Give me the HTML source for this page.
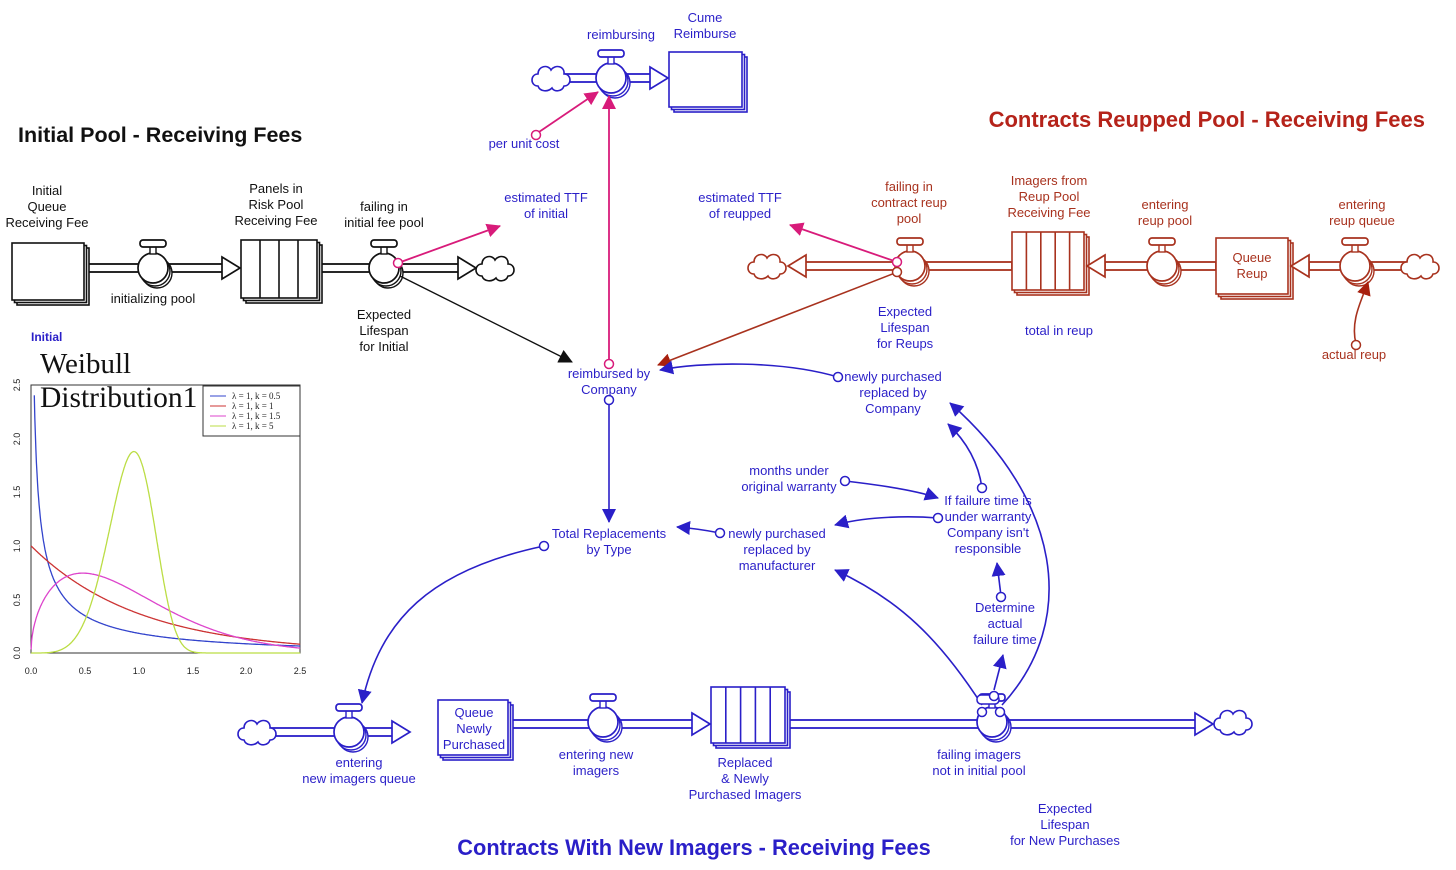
<!DOCTYPE html>
<html><head><meta charset="utf-8"><style>
html,body{margin:0;padding:0;background:#fff;}
svg{display:block;font-family:"Liberation Sans",sans-serif;}
.b{fill:#2a1fc8;font-size:13px;}
.k{fill:#111;font-size:13px;}
.r{fill:#a8321e;font-size:13px;}
</style></head><body>
<svg id="s" width="1456" height="870" viewBox="0 0 1456 870" xmlns="http://www.w3.org/2000/svg">
<defs>
<marker id="ab" markerWidth="10" markerHeight="10" refX="9" refY="5" orient="auto" markerUnits="userSpaceOnUse" viewBox="0 0 10 10"><path d="M0,0 L10,5 L0,10 Z" fill="#2a1fc8"/></marker>
<marker id="am" markerWidth="14" markerHeight="14" refX="13" refY="7" orient="auto" markerUnits="userSpaceOnUse" viewBox="0 0 14 14"><path d="M0,0 L14,7 L0,14 Z" fill="#d81b7a"/></marker>
<marker id="ak" markerWidth="14" markerHeight="14" refX="13" refY="7" orient="auto" markerUnits="userSpaceOnUse" viewBox="0 0 14 14"><path d="M0,0 L14,7 L0,14 Z" fill="#111"/></marker>
<marker id="ar" markerWidth="14" markerHeight="14" refX="13" refY="7" orient="auto" markerUnits="userSpaceOnUse" viewBox="0 0 14 14"><path d="M0,0 L14,7 L0,14 Z" fill="#a8200e"/></marker>
<marker id="abb" markerWidth="14" markerHeight="14" refX="13" refY="7" orient="auto" markerUnits="userSpaceOnUse" viewBox="0 0 14 14"><path d="M0,0 L14,7 L0,14 Z" fill="#2a1fc8"/></marker>
</defs>
<g id="g"></g>

<text x="18" y="142" font-size="21.5" font-weight="bold" fill="#111">Initial Pool - Receiving Fees</text>
<text x="1425" y="127" font-size="22" font-weight="bold" fill="#b5231a" text-anchor="end">Contracts Reupped Pool - Receiving Fees</text>
<text x="694" y="855" font-size="21.8" font-weight="bold" fill="#2a1fc8" text-anchor="middle">Contracts With New Imagers - Receiving Fees</text>

<g class="k" text-anchor="middle">
<text x="47" y="195">Initial</text><text x="47" y="211">Queue</text><text x="47" y="227">Receiving Fee</text>
<text x="276" y="193">Panels in</text><text x="276" y="209">Risk Pool</text><text x="276" y="225">Receiving Fee</text>
<text x="384" y="211">failing in</text><text x="384" y="227">initial fee pool</text>
<text x="153" y="303">initializing pool</text>
<text x="384" y="319">Expected</text><text x="384" y="335">Lifespan</text><text x="384" y="351">for Initial</text>
</g>
<text x="31" y="341" font-size="12" font-weight="bold" fill="#2a1fc8">Initial</text>

<g class="b" text-anchor="middle">
<text x="621" y="39">reimbursing</text>
<text x="705" y="22">Cume</text><text x="705" y="38">Reimburse</text>
<text x="524" y="148">per unit cost</text>
<text x="546" y="202">estimated TTF</text><text x="546" y="218">of initial</text>
<text x="740" y="202">estimated TTF</text><text x="740" y="218">of reupped</text>
<text x="905" y="316">Expected</text><text x="905" y="332">Lifespan</text><text x="905" y="348">for Reups</text>
<text x="1059" y="335">total in reup</text>
<text x="609" y="378">reimbursed by</text><text x="609" y="394">Company</text>
<text x="893" y="381">newly purchased</text><text x="893" y="397">replaced by</text><text x="893" y="413">Company</text>
<text x="789" y="475">months under</text><text x="789" y="491">original warranty</text>
<text x="988" y="505">If failure time is</text><text x="988" y="521">under warranty</text><text x="988" y="537">Company isn't</text><text x="988" y="553">responsible</text>
<text x="609" y="538">Total Replacements</text><text x="609" y="554">by Type</text>
<text x="777" y="538">newly purchased</text><text x="777" y="554">replaced by</text><text x="777" y="570">manufacturer</text>
<text x="1005" y="612">Determine</text><text x="1005" y="628">actual</text><text x="1005" y="644">failure time</text>
<text x="474" y="717">Queue</text><text x="474" y="733">Newly</text><text x="474" y="749">Purchased</text>
<text x="359" y="767">entering</text><text x="359" y="783">new imagers queue</text>
<text x="596" y="759">entering new</text><text x="596" y="775">imagers</text>
<text x="745" y="767">Replaced</text><text x="745" y="783">&amp; Newly</text><text x="745" y="799">Purchased Imagers</text>
<text x="979" y="759">failing imagers</text><text x="979" y="775">not in initial pool</text>
<text x="1065" y="813">Expected</text><text x="1065" y="829">Lifespan</text><text x="1065" y="845">for New Purchases</text>
</g>
<g class="r" text-anchor="middle">
<text x="909" y="191">failing in</text><text x="909" y="207">contract reup</text><text x="909" y="223">pool</text>
<text x="1049" y="185">Imagers from</text><text x="1049" y="201">Reup Pool</text><text x="1049" y="217">Receiving Fee</text>
<text x="1165" y="209">entering</text><text x="1165" y="225">reup pool</text>
<text x="1362" y="209">entering</text><text x="1362" y="225">reup queue</text>
<text x="1252" y="262">Queue</text><text x="1252" y="278">Reup</text>
<text x="1354" y="359">actual reup</text>
</g>

<rect x="31" y="385" width="269" height="268" fill="none" stroke="#333" stroke-width="1"/>
<g id="wb"></g>
<text x="40" y="373" font-family="Liberation Serif,serif" font-size="29" fill="#111">Weibull</text>
<text x="40" y="407" font-family="Liberation Serif,serif" font-size="29.5" fill="#111">Distribution1</text>
<rect x="203" y="386" width="97" height="50" fill="#fff" stroke="#333" stroke-width="1"/>
<g font-family="Liberation Serif,serif" font-size="9" fill="#222">
<line x1="210" y1="396" x2="226" y2="396" stroke="#3344cc"/><text x="232" y="399">λ = 1, k = 0.5</text>
<line x1="210" y1="406" x2="226" y2="406" stroke="#cc3333"/><text x="232" y="409">λ = 1, k = 1</text>
<line x1="210" y1="416" x2="226" y2="416" stroke="#dd44cc"/><text x="232" y="419">λ = 1, k = 1.5</text>
<line x1="210" y1="426" x2="226" y2="426" stroke="#bbdd44"/><text x="232" y="429">λ = 1, k = 5</text>
</g>
<g font-size="9" fill="#222" text-anchor="middle">
<text x="31" y="674">0.0</text><text x="85" y="674">0.5</text><text x="139" y="674">1.0</text><text x="193" y="674">1.5</text><text x="246" y="674">2.0</text><text x="300" y="674">2.5</text>
<text transform="translate(20,653) rotate(-90)">0.0</text>
<text transform="translate(20,600) rotate(-90)">0.5</text>
<text transform="translate(20,546) rotate(-90)">1.0</text>
<text transform="translate(20,492) rotate(-90)">1.5</text>
<text transform="translate(20,439) rotate(-90)">2.0</text>
<text transform="translate(20,385) rotate(-90)">2.5</text>
</g>
</svg>
<script>
var NS="http://www.w3.org/2000/svg",G=document.getElementById("g");
function el(t,a){var e=document.createElementNS(NS,t);for(var k in a)e.setAttribute(k,a[k]);G.appendChild(e);return e;}
var B="#2a1fc8",K="#111",R="#a8321e",M="#d81b7a";
function pipe(x1,x2,y,c){el("rect",{x:Math.min(x1,x2),y:y-4,width:Math.abs(x2-x1),height:8,fill:"#fff",stroke:c,"stroke-width":1.8});}
function head(x,y,dir,c){var w=18*dir;el("path",{d:"M"+x+","+(y-11)+" L"+(x+w)+","+y+" L"+x+","+(y+11)+" Z",fill:"#fff",stroke:c,"stroke-width":1.7});}
function valve(x,y,c){el("circle",{cx:x+4,cy:y+5,r:15,fill:"#fff",stroke:c,"stroke-width":1.4});el("circle",{cx:x+2,cy:y+3,r:15,fill:"#fff",stroke:c,"stroke-width":1.4});el("circle",{cx:x,cy:y,r:15,fill:"#fff",stroke:c,"stroke-width":1.7});
el("rect",{x:x-3,y:y-22,width:6,height:8,fill:"#fff",stroke:c,"stroke-width":1.4});el("rect",{x:x-13,y:y-28,width:26,height:7,rx:3,fill:"#fff",stroke:c,"stroke-width":1.7});}
function cloud(x,y,c){el("path",{d:"M"+(x-14)+","+(y+8)+" c-8,0 -8,-12 0,-12 c0,-8 10,-10 13,-4 c4,-6 14,-4 13,4 c8,0 8,12 0,12 c-2,6 -10,6 -12,2 c-4,4 -12,4 -14,-2 Z",fill:"#fff",stroke:c,"stroke-width":1.6});}
function stock(x,y,w,h,c,cols){for(var i=2;i>=0;i--)el("rect",{x:x+i*2.5,y:y+i*2.5,width:w,height:h,fill:"#fff",stroke:c,"stroke-width":1.6});
if(cols){for(var j=1;j<cols;j++){var xx=x+w*j/cols;el("line",{x1:xx,y1:y,x2:xx,y2:y+h,stroke:c,"stroke-width":1.6});}}}
function ln(d,c,m,w){el("path",{d:d,fill:"none",stroke:c,"stroke-width":w||1.6,"marker-end":m?"url(#"+m+")":""});}
function dot(x,y,c){el("circle",{cx:x,cy:y,r:4.5,fill:"#fff",stroke:c,"stroke-width":1.5});}

pipe(565,655,78,B);cloud(552,78,B);head(650,78,1,B);valve(611,78,B);stock(669,52,73,55,B,0);
pipe(86,225,268,K);pipe(318,462,268,K);stock(12,243,72,57,K,0);valve(153,268,K);head(222,268,1,K);stock(241,240,76,58,K,4);valve(384,268,K);head(458,268,1,K);cloud(496,268,K);
ln("M400,276 L572,362",K,"ak",1.4);
ln("M398,263 L500,226",M,"am",1.8);dot(398,263,M);
pipe(805,1012,266,R);pipe(1105,1216,266,R);pipe(1309,1408,266,R);
cloud(768,266,R);head(806,266,-1,R);valve(910,266,R);stock(1012,232,72,58,R,5);head(1105,266,-1,R);valve(1162,266,R);stock(1216,238,72,56,R,0);head(1309,266,-1,R);valve(1355,266,R);cloud(1421,266,R);
ln("M897,262 L790,225",M,"am",1.8);dot(897,262,M);
ln("M895,273 L658,365",R,"ar",1.6);dot(897,272,R);
ln("M1356,344 C1350,320 1362,300 1368,282",R,"ar",1.6);dot(1356,345,R);
ln("M536,134 L598,92",M,"am",1.8);dot(536,135,M);
ln("M609,364 L609,96",M,"am",1.8);dot(609,364,M);
ln("M609,400 L609,522",B,"abb",1.6);dot(609,400,B);
ln("M838,377 C780,360 700,362 660,370",B,"abb",1.6);dot(838,377,B);
ln("M982,488 C978,460 965,440 948,424",B,"abb",1.6);dot(982,488,B);
ln("M845,481 C880,485 915,490 938,498",B,"abb",1.6);dot(845,481,B);
ln("M938,518 C900,515 860,518 835,525",B,"abb",1.6);dot(938,518,B);
ln("M720,533 C705,530 690,528 677,527",B,"abb",1.6);dot(720,533,B);
ln("M1001,596 L997,563",B,"abb",1.6);dot(1001,597,B);
ln("M544,546 C430,570 380,620 362,703",B,"abb",1.6);dot(544,546,B);
pipe(270,395,732,B);pipe(512,695,724,B);pipe(787,1198,724,B);
cloud(258,732,B);valve(349,732,B);head(392,732,1,B);stock(438,700,70,55,B,0);valve(603,722,B);head(692,724,1,B);stock(711,687,74,56,B,5);valve(992,722,B);head(1195,724,1,B);cloud(1234,722,B);
ln("M1002,705 C1080,620 1060,500 950,403",B,"abb",1.6);
ln("M982,705 C940,640 900,600 835,570",B,"abb",1.6);
ln("M994,690 L1003,655",B,"abb",1.6);
el("rect",{x:977,y:695,width:22,height:9,rx:4,fill:"#fff",stroke:B,"stroke-width":1.5});dot(994,696,B);dot(982,712,B);dot(1000,712,B);
var W=document.getElementById("wb");
[[0.5,"#3344cc"],[1,"#cc3333"],[1.5,"#dd44cc"],[5,"#bbdd44"]].forEach(function(p){var k=p[0],d="";
for(var i=0;i<=500;i++){var x=0.0005+i*2.5/500,f=k*Math.pow(x,k-1)*Math.exp(-Math.pow(x,k));if(f>2.6)continue;var X=31+x*107.6,Y=653-f*107.2;d+=(d?"L":"M")+X.toFixed(1)+","+Y.toFixed(1);}
var e=document.createElementNS(NS,"path");e.setAttribute("d",d);e.setAttribute("fill","none");e.setAttribute("stroke",p[1]);e.setAttribute("stroke-width","1.3");W.appendChild(e);});
</script>
</body></html>
